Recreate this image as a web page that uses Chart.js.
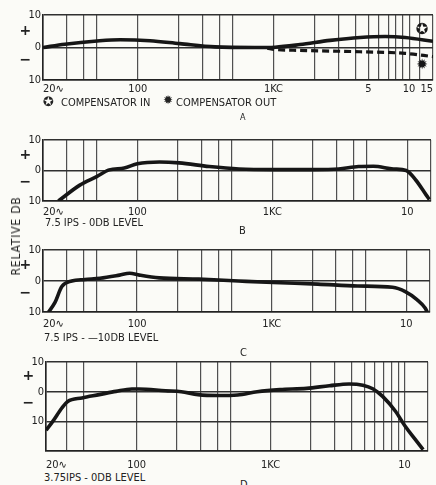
<!DOCTYPE html>
<html>
<head>
<meta charset="utf-8">
<script src="https://cdn.jsdelivr.net/npm/chart.js@4"></script>
<style>
  body { margin: 0; background: #fbfbf7; }
  #wrap { position: relative; width: 436px; height: 485px; overflow: hidden;
          font-family: 'DejaVu Sans Condensed', 'Liberation Sans Narrow', 'DejaVu Sans', sans-serif; color: #222; }
  canvas { position: absolute; left: 0; }
  .t { position: absolute; font-size: 11px; line-height: 1; white-space: nowrap; }
</style>
</head>
<body>
<div id="wrap">
  <canvas id="chartA" width="436" height="100" style="top:0px"></canvas>
  <canvas id="chartB" width="436" height="96" style="top:125px"></canvas>
  <canvas id="chartC" width="436" height="97" style="top:235px"></canvas>
  <canvas id="chartD" width="436" height="124" style="top:347px"></canvas>

  <div class="t" style="left:43px;top:95px;font-size:13px;font-family:'DejaVu Sans'">✪</div>
  <div class="t" style="left:61px;top:97px">COMPENSATOR IN</div>
  <div class="t" style="left:163px;top:94px;font-size:12px;font-family:'DejaVu Sans'">✹</div>
  <div class="t" style="left:176px;top:97px">COMPENSATOR OUT</div>
  <div class="t" style="left:240px;top:113px;font-size:9px">A</div>

  <div class="t" style="left:45px;top:217px">7.5 IPS - 0DB LEVEL</div>
  <div class="t" style="left:239px;top:225px">B</div>

  <div class="t" style="left:44px;top:332px">7.5 IPS - —10DB LEVEL</div>
  <div class="t" style="left:240px;top:347px">C</div>

  <div class="t" style="left:44px;top:472px">3.75IPS - 0DB LEVEL</div>
  <div class="t" style="left:240px;top:479px">D</div>

  <div class="t" style="left:16px;top:236px;font-size:12px;letter-spacing:0.8px;transform:translate(-50%,-50%) rotate(-90deg)">RELATIVE DB</div>
</div>

<script>
// Panel A - compensator in / out
const freqIn = [20, 29, 50, 74, 123, 204, 371, 731, 1028, 1570, 2617, 4354, 6650, 9340, 15000];
const compIn = [0, 1, 2, 2.4, 2.1, 1.2, 0.2, 0, 0.1, 0.9, 2.2, 3.1, 3.4, 3.1, 1.9];
const freqOut = [900, 1028, 1570, 4354, 9340, 15000];
const compOut = [-0.2, -0.6, -0.9, -1.3, -1.8, -2.8];

// Panel B - 7.5 ips, 0 dB level
const freqB = [26, 37.5, 50, 62, 80, 100, 146, 204, 341, 567, 1028, 2030, 3100, 4354, 5610, 7890, 9830, 11600, 13800, 14600];
const levelB = [-10, -4.8, -2, 0.2, 0.8, 2.2, 2.8, 2.5, 1.3, 0.5, 0.3, 0.3, 0.5, 1.3, 1.4, 0.5, 0, -3.2, -8, -9.5];

// Panel C - 7.5 ips, -10 dB level
const freqC = [22, 24.5, 27.6, 32.7, 41, 53, 74, 88, 104, 146, 288, 567, 1028, 2200, 4354, 7890, 9830, 12000, 13800, 14300];
const levelC = [-10, -7, -1.8, 0, 0.5, 0.9, 1.9, 2.5, 1.9, 1, 0.6, 0, -0.5, -1, -1.6, -2, -3.4, -6, -8.7, -10];

// Panel D - 3.75 ips, 0 dB level
const freqD = [21, 23.6, 27.6, 30.5, 39, 52.5, 70, 92, 104, 164, 215, 287, 403, 567, 795, 1175, 1860, 2750, 3860, 4890, 5800, 6870, 8570, 10100, 12000, 13800];
const levelD = [-13, -10, -5.5, -3.3, -2.1, -1, 0.1, 0.9, 0.9, 0.3, 0, -1, -1.3, -1.1, 0, 0.7, 1.1, 2, 2.6, 2.2, 1, -1.6, -6.6, -11.6, -16, -19.5];

// grid lines and tick labels
const gridA = [20, 30, 40, 50, 100, 200, 300, 400, 500, 1000, 2000, 3000, 4000, 5000, 6000, 7000, 8000, 9000, 10000, 12000, 15000];
const gridBC = [20, 30, 40, 50, 100, 200, 300, 400, 500, 1000, 2000, 3000, 4000, 5000, 10000, 15000];
const gridD = [21, 30, 40, 100, 200, 300, 400, 500, 1000, 2000, 3000, 4000, 5000, 6000, 7000, 8000, 9000, 10000, 15000];
const xLabelsA = {20: '20∿', 100: '100', 1000: '1KC', 5000: '5', 10000: '10', 15000: '15'};
const xLabelsBC = {20: '20∿', 100: '100', 1000: '1KC', 10000: '10'};
const xLabelsD = {21: '20∿', 100: '100', 1000: '1KC', 10000: '10'};
const yTicks = [10, 5, 0, -4, -10];
const yTicksD = [10, 5, 0, -4, -10, -20];
const yLabels = {10: '10', 5: '+  ', 0: '0', '-4': '−  ', '-10': '10', '-20': ''};
const signTicks = [5, -4];

const FONT = "'DejaVu Sans Condensed', 'Liberation Sans Narrow', 'DejaVu Sans', sans-serif";
const INK = '#161616';

function pts(xs, ys) {
    return xs.map((x, i) => ({x: x, y: ys[i]}));
}

const markerPlugin = {
    id: 'markers',
    afterDatasetsDraw(chart) {
        const {ctx, chartArea: a} = chart;
        ctx.save();
        ctx.fillStyle = INK;
        ctx.font = "15px 'DejaVu Sans'";
        ctx.textAlign = 'center';
        ctx.textBaseline = 'middle';
        ctx.fillText('✪', a.right - 11, a.top + 15);
        ctx.font = "14px 'DejaVu Sans'";
        ctx.fillText('✹', a.right - 11, a.bottom - 15);
        ctx.restore();
    }
};

function makePanel(id, datasets, o) {
    return new Chart(document.getElementById(id), {
        type: 'line',
        data: {datasets: datasets},
        options: {
            responsive: false,
            animation: false,
            layout: {padding: {top: 15, right: 3, left: 0, bottom: 0}},
            plugins: {legend: {display: false}, tooltip: {enabled: false}},
            elements: {
                point: {radius: 0},
                line: {borderWidth: 3.6, borderColor: INK, tension: 0.4, cubicInterpolationMode: 'monotone'}
            },
            scales: {
                x: {
                    type: 'logarithmic',
                    min: o.xMin,
                    max: 15000,
                    afterBuildTicks: s => { s.ticks = o.grid.map(v => ({value: v})); },
                    afterFit: s => { s.height = 20; },
                    ticks: {
                        autoSkip: false, maxRotation: 0, align: 'inner', padding: o.tickPad,
                        color: '#222', font: {family: FONT, size: 11},
                        callback: v => o.xLabels[v] ?? ''
                    },
                    grid: {color: '#505050', lineWidth: 1.2, drawTicks: false},
                    border: {color: '#222', width: 1.6}
                },
                y: {
                    min: o.yMin,
                    max: 10,
                    afterBuildTicks: s => { s.ticks = o.yTicks.map(v => ({value: v})); },
                    afterFit: s => { s.width = o.left; },
                    ticks: {
                        autoSkip: false, padding: 2, color: '#222',
                        font: c => (c.tick && signTicks.includes(c.tick.value))
                            ? {family: 'DejaVu Sans', size: 14, weight: 'bold'}
                            : {family: FONT, size: 11},
                        callback: v => yLabels[v] ?? ''
                    },
                    grid: {
                        color: c => (c.tick && signTicks.includes(c.tick.value)) ? 'rgba(0,0,0,0)' : '#303030',
                        lineWidth: 1.4, drawTicks: false
                    },
                    border: {color: '#222', width: 1.6}
                }
            }
        },
        plugins: o.plugins || []
    });
}

makePanel('chartA', [
    {data: pts(freqIn, compIn)},
    {data: pts(freqOut, compOut), borderDash: [7, 4], borderWidth: 3.2}
], {xMin: 20, grid: gridA, xLabels: xLabelsA, yTicks: yTicks, yMin: -10, left: 43, tickPad: 3, plugins: [markerPlugin]});

makePanel('chartB', [{data: pts(freqB, levelB)}],
    {xMin: 20, grid: gridBC, xLabels: xLabelsBC, yTicks: yTicks, yMin: -10, left: 43, tickPad: 5});

makePanel('chartC', [{data: pts(freqC, levelC)}],
    {xMin: 20, grid: gridBC, xLabels: xLabelsBC, yTicks: yTicks, yMin: -10, left: 43, tickPad: 6});

makePanel('chartD', [{data: pts(freqD, levelD)}],
    {xMin: 21, grid: gridD, xLabels: xLabelsD, yTicks: yTicksD, yMin: -20, left: 46, tickPad: 8});
</script>
</body>
</html>
